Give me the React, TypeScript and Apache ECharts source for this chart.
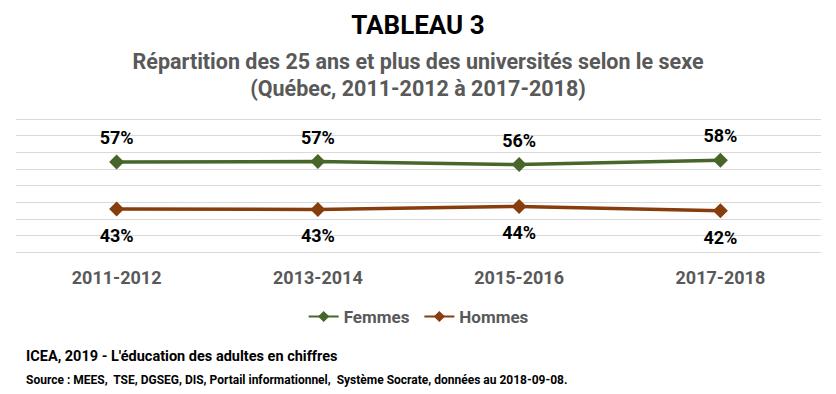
import React, { useEffect, useRef } from "react";
import * as echarts from "echarts";

const categories = ["2011-2012", "2013-2014", "2015-2016", "2017-2018"];
const femmes = [57.1, 57.2, 56.3, 57.6];
const hommes = [42.9, 42.8, 43.7, 42.4];
const femmesLabels = ["57%", "57%", "56%", "58%"];
const hommesLabels = ["43%", "43%", "44%", "42%"];

const FONT = "'Liberation Sans Narrow', 'Arial Narrow', Roboto, sans-serif";
const GREEN = "#46662A";
const BROWN = "#873D0E";

export default function App() {
  const ref = useRef<HTMLDivElement>(null);
  useEffect(() => {
    const chart = echarts.init(ref.current!, null, { renderer: "svg" });
    const labelFmt = (arr: string[]) => (p: any) => arr[p.dataIndex];
    chart.setOption({
      animation: false,
      backgroundColor: "#ffffff",
      title: [
        {
          text: "TABLEAU 3",
          left: "center",
          top: 7,
          textStyle: { fontFamily: FONT, fontSize: 26, fontWeight: "bold", color: "#000000" },
        },
        {
          text: "Répartition des 25 ans et plus des universités selon le sexe\n(Québec, 2011-2012 à 2017-2018)",
          left: "center",
          top: 43,
          textStyle: { fontFamily: FONT, fontSize: 21.5, fontWeight: "bold", color: "#595959", lineHeight: 27 },
        },
        {
          text: "ICEA, 2019 - L'éducation des adultes en chiffres",
          left: 21,
          top: 344,
          textStyle: { fontFamily: FONT, fontSize: 14.5, fontWeight: "bold", color: "#000000" },
        },
        {
          text: "Source : MEES,  TSE, DGSEG, DIS, Portail informationnel,  Système Socrate, données au 2018-09-08.",
          left: 21,
          top: 369,
          textStyle: { fontFamily: FONT, fontSize: 12, fontWeight: "bold", color: "#000000" },
        },
      ],
      legend: {
        data: ["Femmes", "Hommes"],
        left: "center",
        top: 303,
        itemWidth: 30,
        itemHeight: 14,
        itemGap: 14,
        textStyle: { fontFamily: FONT, fontSize: 17, fontWeight: "bold", color: "#595959" },
      },
      grid: { left: 16, right: 15, top: 119, bottom: 142 },
      xAxis: {
        type: "category",
        data: categories,
        boundaryGap: true,
        axisLine: { show: false },
        axisTick: { show: false },
        axisLabel: {
          margin: 16,
          fontFamily: FONT,
          fontSize: 18,
          fontWeight: "bold",
          color: "#595959",
        },
      },
      yAxis: {
        type: "value",
        min: 30,
        max: 70,
        interval: 5,
        axisLabel: { show: false },
        axisLine: { show: false },
        axisTick: { show: false },
        splitLine: { lineStyle: { color: "#D9D9D9", width: 1 } },
      },
      series: [
        {
          name: "Femmes",
          type: "line",
          data: femmes,
          symbol: "diamond",
          symbolSize: 15,
          itemStyle: { color: GREEN },
          lineStyle: { color: GREEN, width: 3.5 },
          label: {
            show: true,
            position: "top",
            distance: 8,
            formatter: labelFmt(femmesLabels),
            fontFamily: FONT,
            fontSize: 18,
            fontWeight: "bold",
            color: "#000000",
          },
        },
        {
          name: "Hommes",
          type: "line",
          data: hommes,
          symbol: "diamond",
          symbolSize: 15,
          itemStyle: { color: BROWN },
          lineStyle: { color: BROWN, width: 3.5 },
          label: {
            show: true,
            position: "bottom",
            distance: 10,
            formatter: labelFmt(hommesLabels),
            fontFamily: FONT,
            fontSize: 18,
            fontWeight: "bold",
            color: "#000000",
          },
        },
      ],
    });
    return () => chart.dispose();
  }, []);
  return <div ref={ref} style={{ width: 836, height: 394, position: "absolute", left: 0, top: 0 }} />;
}
